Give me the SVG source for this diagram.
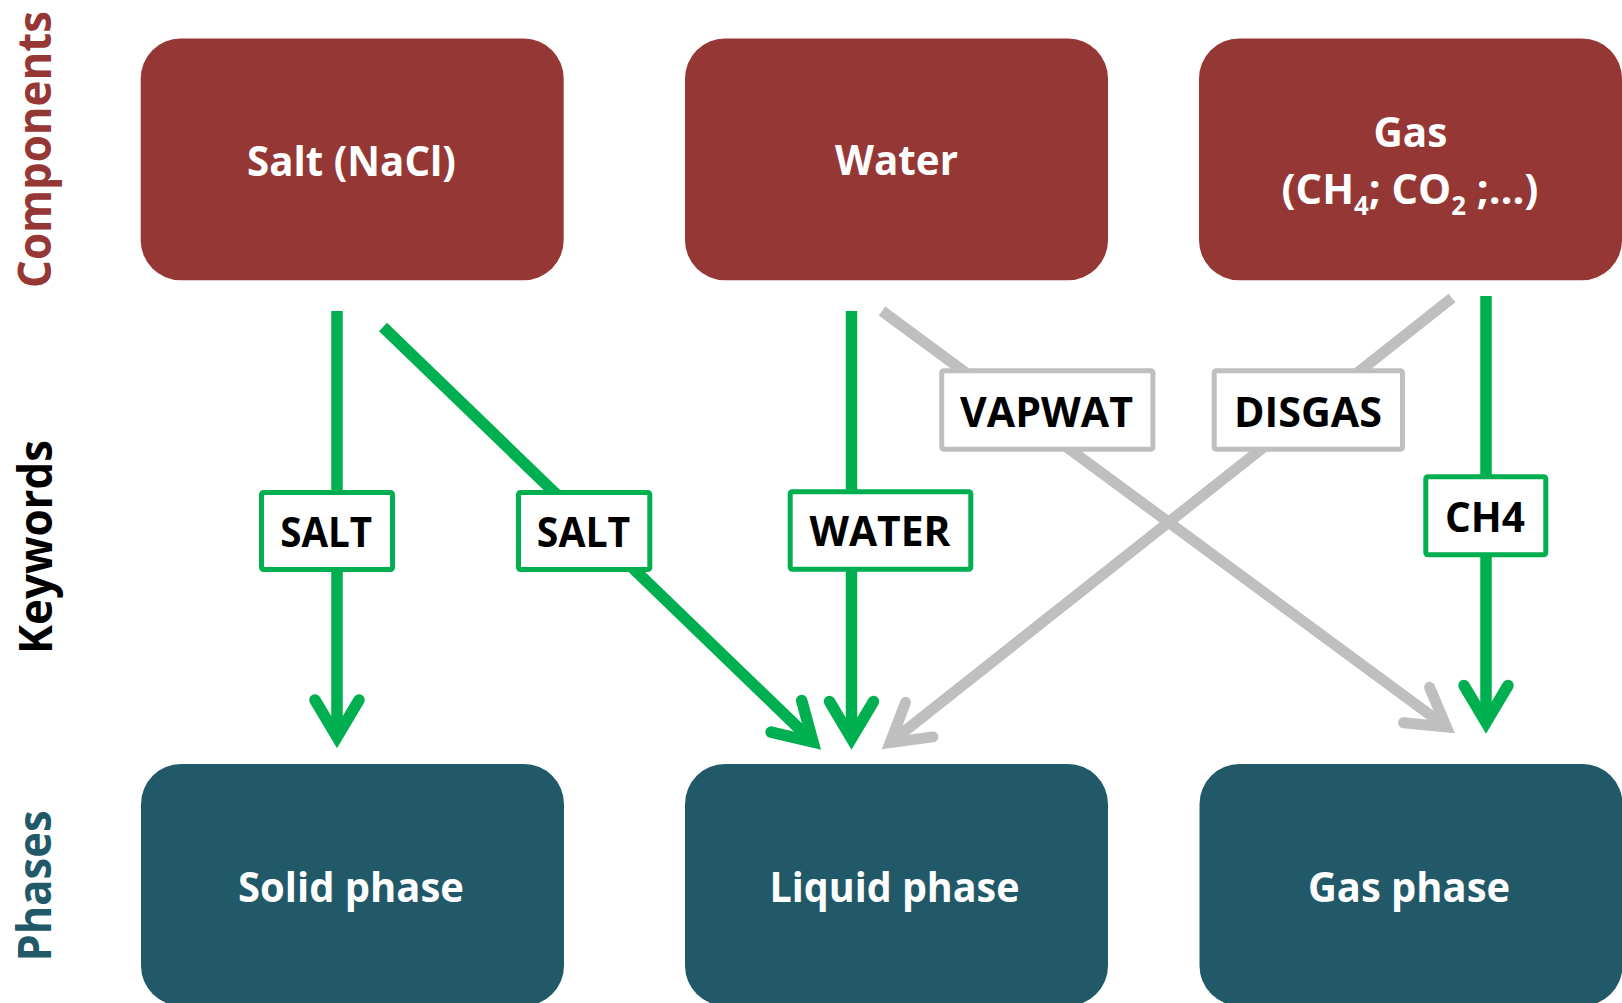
<svg xmlns="http://www.w3.org/2000/svg" width="1622" height="1003" viewBox="0 0 1622 1003">
<style>
.comp{fill:#953735}
.phase{fill:#215968}
.wt{font-family:"Open Sans","Liberation Sans",sans-serif;font-weight:700;font-size:42px;fill:#ffffff}
.kt{font-family:"Open Sans","Liberation Sans",sans-serif;font-weight:700;font-size:42px;fill:#000000}
.side{font-family:"Open Sans","Liberation Sans",sans-serif;font-weight:700;font-size:46px}
.kbg{fill:#ffffff;stroke:#00B050;stroke-width:5}
.kbgr{fill:#ffffff;stroke:#BFBFBF;stroke-width:5}
.lg{fill:none;stroke:#00B050;stroke-width:11.5;stroke-linecap:butt}
.lr{fill:none;stroke:#BFBFBF;stroke-width:11;stroke-linecap:butt}
</style>
<defs>
<marker id="ag" markerUnits="userSpaceOnUse" orient="auto" overflow="visible" refX="0" refY="0" markerWidth="1" markerHeight="1">
<path d="M-37,-22 L0,0 L-37,22" fill="none" stroke="#00B050" stroke-width="11.5" stroke-linecap="round" stroke-linejoin="miter"/>
</marker>
<marker id="ar" markerUnits="userSpaceOnUse" orient="auto" overflow="visible" refX="0" refY="0" markerWidth="1" markerHeight="1">
<path d="M-37,-22 L0,0 L-37,22" fill="none" stroke="#BFBFBF" stroke-width="11" stroke-linecap="round" stroke-linejoin="miter"/>
</marker>
</defs>
<rect width="1622" height="1003" fill="#ffffff"/>

<g id="side-labels">
<text class="side" fill="#953735" transform="translate(50.5,288) rotate(-90)" textLength="277" lengthAdjust="spacingAndGlyphs">Components</text>
<text class="side" fill="#000000" transform="translate(51.5,654) rotate(-90)" textLength="214" lengthAdjust="spacingAndGlyphs">Keywords</text>
<text class="side" fill="#215968" transform="translate(50.5,961.5) rotate(-90)" textLength="151" lengthAdjust="spacingAndGlyphs">Phases</text>
</g>

<g id="comp-salt">
<rect class="comp" x="140.7" y="38.5" width="423" height="241.7" rx="40"/>
<text class="wt" x="247" y="176" textLength="209" lengthAdjust="spacingAndGlyphs">Salt (NaCl)</text>
</g>
<g id="comp-water">
<rect class="comp" x="685" y="38.5" width="423" height="241.7" rx="40"/>
<text class="wt" x="835" y="175" textLength="123" lengthAdjust="spacingAndGlyphs">Water</text>
</g>
<g id="comp-gas">
<rect class="comp" x="1199" y="38.5" width="423" height="241.7" rx="40"/>
<text class="wt" x="1373.5" y="146.7" textLength="74" lengthAdjust="spacingAndGlyphs">Gas</text>
<text class="wt" x="1281.5" y="204" textLength="257" lengthAdjust="spacingAndGlyphs">(CH<tspan font-size="26" dy="11">4</tspan><tspan dy="-11">; CO</tspan><tspan font-size="26" dy="11">2</tspan><tspan dy="-11"> ;…)</tspan></text>
</g>

<g id="phase-solid">
<rect class="phase" x="141" y="764" width="423" height="241.7" rx="40"/>
<text class="wt" x="238" y="901.7" textLength="226" lengthAdjust="spacingAndGlyphs">Solid phase</text>
</g>
<g id="phase-liquid">
<rect class="phase" x="685" y="764" width="423" height="241.7" rx="40"/>
<text class="wt" x="769.5" y="901.7" textLength="250" lengthAdjust="spacingAndGlyphs">Liquid phase</text>
</g>
<g id="phase-gas">
<rect class="phase" x="1199.5" y="764" width="423" height="241.7" rx="40"/>
<text class="wt" x="1308" y="901.7" textLength="202" lengthAdjust="spacingAndGlyphs">Gas phase</text>
</g>

<g id="connectors">
<path class="lg" d="M337,311 L337,737" marker-end="url(#ag)"/>
<path class="lg" d="M383,327 L813,742" marker-end="url(#ag)"/>
<path class="lg" d="M851.5,311 L851.5,738.5" marker-end="url(#ag)"/>
<path class="lr" d="M882,311 L1446.3,726.9" marker-end="url(#ar)"/>
<path class="lr" d="M1452,298 L890.2,742.6" marker-end="url(#ar)"/>
<path class="lg" d="M1486,296 L1486,722.5" marker-end="url(#ag)"/>
</g>

<g id="kw-salt-solid">
<rect class="kbg" x="261.5" y="492.5" width="131" height="77" rx="2"/>
<text class="kt" x="280.2" y="546.7" textLength="92" lengthAdjust="spacingAndGlyphs">SALT</text>
</g>
<g id="kw-salt-liquid">
<rect class="kbg" x="518.5" y="492.5" width="131.3" height="77" rx="2"/>
<text class="kt" x="536.8" y="546.7" textLength="93.5" lengthAdjust="spacingAndGlyphs">SALT</text>
</g>
<g id="kw-water">
<rect class="kbg" x="790.2" y="491.8" width="180.6" height="77.4" rx="2"/>
<text class="kt" x="809.5" y="546" textLength="141" lengthAdjust="spacingAndGlyphs">WATER</text>
</g>
<g id="kw-vapwat">
<rect class="kbgr" x="941.7" y="370.8" width="211.2" height="78.4" rx="2"/>
<text class="kt" x="960" y="426.7" textLength="173" lengthAdjust="spacingAndGlyphs">VAPWAT</text>
</g>
<g id="kw-disgas">
<rect class="kbgr" x="1214.2" y="370.8" width="188.3" height="78.4" rx="2"/>
<text class="kt" x="1234" y="426.7" textLength="148" lengthAdjust="spacingAndGlyphs">DISGAS</text>
</g>
<g id="kw-ch4">
<rect class="kbg" x="1425.8" y="476.8" width="120" height="78" rx="2"/>
<text class="kt" x="1445" y="531.7" textLength="80" lengthAdjust="spacingAndGlyphs">CH4</text>
</g>
</svg>
